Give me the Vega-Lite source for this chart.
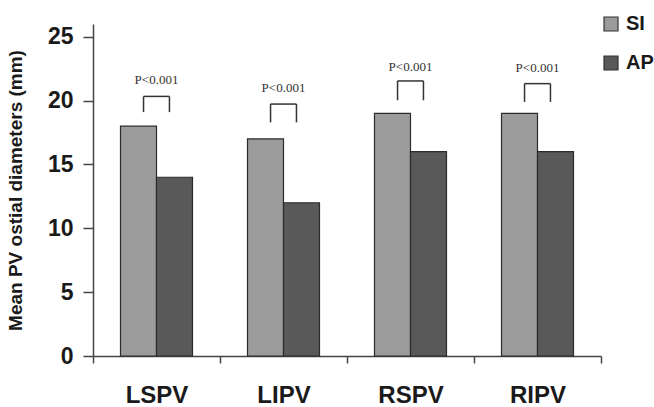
{
  "$schema": "https://vega.github.io/schema/vega-lite/v6.json",
  "width": 508,
  "height": 332,
  "autosize": {"type": "none"},
  "padding": {"left": 93, "top": 24, "right": 53, "bottom": 51},
  "background": "white",
  "config": {"view": {"stroke": null}, "font": "Liberation Sans"},
  "datasets": {
    "bars": [
      {"vein": "LSPV", "view": "SI", "diameter": 18},
      {"vein": "LSPV", "view": "AP", "diameter": 14},
      {"vein": "LIPV", "view": "SI", "diameter": 17},
      {"vein": "LIPV", "view": "AP", "diameter": 12},
      {"vein": "RSPV", "view": "SI", "diameter": 19},
      {"vein": "RSPV", "view": "AP", "diameter": 16},
      {"vein": "RIPV", "view": "SI", "diameter": 19},
      {"vein": "RIPV", "view": "AP", "diameter": 16}
    ],
    "sig": [
      {"vein": "LSPV", "top": 20.33, "bottom": 19.1, "labelY": 21.65, "p": "P<0.001"},
      {"vein": "LIPV", "top": 19.73, "bottom": 18.3, "labelY": 20.98, "p": "P<0.001"},
      {"vein": "RSPV", "top": 21.54, "bottom": 20.03, "labelY": 22.67, "p": "P<0.001"},
      {"vein": "RIPV", "top": 21.33, "bottom": 19.9, "labelY": 22.54, "p": "P<0.001"}
    ]
  },
  "layer": [
    {
      "data": {"name": "bars"},
      "mark": {"type": "bar", "stroke": "#2b2b2b", "strokeWidth": 1.2},
      "encoding": {
        "x": {
          "field": "vein", "type": "nominal", "sort": ["LSPV", "LIPV", "RSPV", "RIPV"],
          "scale": {"paddingInner": 0, "paddingOuter": 0},
          "axis": {
            "title": null, "labelAngle": 0, "labelFontSize": 24, "labelFontWeight": "bold",
            "labelColor": "#1a1a1a", "labelPadding": 20, "tickSize": 7, "tickWidth": 1.5,
            "tickColor": "#444", "domainColor": "#444", "domainWidth": 1.5, "tickBand": "extent"
          }
        },
        "xOffset": {
          "field": "view", "type": "nominal", "sort": ["SI", "AP"],
          "scale": {"paddingInner": 0, "paddingOuter": 0.764}
        },
        "y": {
          "field": "diameter", "type": "quantitative",
          "scale": {"domain": [0, 25]},
          "axis": {
            "title": "Mean PV ostial diameters (mm)", "values": [0, 5, 10, 15, 20, 25],
            "grid": false, "labelFontSize": 23, "labelFontWeight": "bold", "labelColor": "#1a1a1a",
            "labelPadding": 10, "tickSize": 10, "tickWidth": 1.5, "tickColor": "#444",
            "domainColor": "#444", "domainWidth": 1.5,
            "titleFontSize": 19, "titleFontWeight": "bold", "titleColor": "#1a1a1a", "titlePadding": 22
          }
        },
        "color": {
          "field": "view", "type": "nominal", "sort": ["SI", "AP"],
          "scale": {"domain": ["SI", "AP"], "range": ["#9b9b9b", "#595959"]},
          "legend": {
            "title": null, "orient": "none", "legendX": 508, "legendY": -10,
            "symbolType": "square", "symbolSize": 196, "symbolStrokeColor": "#333",
            "symbolStrokeWidth": 1.2, "labelFontSize": 20, "labelFontWeight": "bold",
            "labelColor": "#1a1a1a", "labelOffset": 5, "rowPadding": 19, "padding": 0
          }
        }
      }
    },
    {
      "data": {"name": "sig"},
      "mark": {"type": "rule", "color": "#333", "strokeWidth": 1.5},
      "encoding": {
        "x": {"field": "vein", "type": "nominal", "sort": ["LSPV", "LIPV", "RSPV", "RIPV"], "bandPosition": 0.398},
        "x2": {"field": "vein", "bandPosition": 0.602},
        "y": {"field": "top", "type": "quantitative"}
      }
    },
    {
      "data": {"name": "sig"},
      "mark": {"type": "rule", "color": "#333", "strokeWidth": 1.5},
      "encoding": {
        "x": {"field": "vein", "type": "nominal", "sort": ["LSPV", "LIPV", "RSPV", "RIPV"], "bandPosition": 0.398},
        "y": {"field": "top", "type": "quantitative"},
        "y2": {"field": "bottom"}
      }
    },
    {
      "data": {"name": "sig"},
      "mark": {"type": "rule", "color": "#333", "strokeWidth": 1.5},
      "encoding": {
        "x": {"field": "vein", "type": "nominal", "sort": ["LSPV", "LIPV", "RSPV", "RIPV"], "bandPosition": 0.602},
        "y": {"field": "top", "type": "quantitative"},
        "y2": {"field": "bottom"}
      }
    },
    {
      "data": {"name": "sig"},
      "mark": {"type": "text", "font": "Liberation Serif", "fontSize": 13, "color": "#333", "baseline": "middle"},
      "encoding": {
        "x": {"field": "vein", "type": "nominal", "sort": ["LSPV", "LIPV", "RSPV", "RIPV"]},
        "y": {"field": "labelY", "type": "quantitative"},
        "text": {"field": "p"}
      }
    }
  ]
}
